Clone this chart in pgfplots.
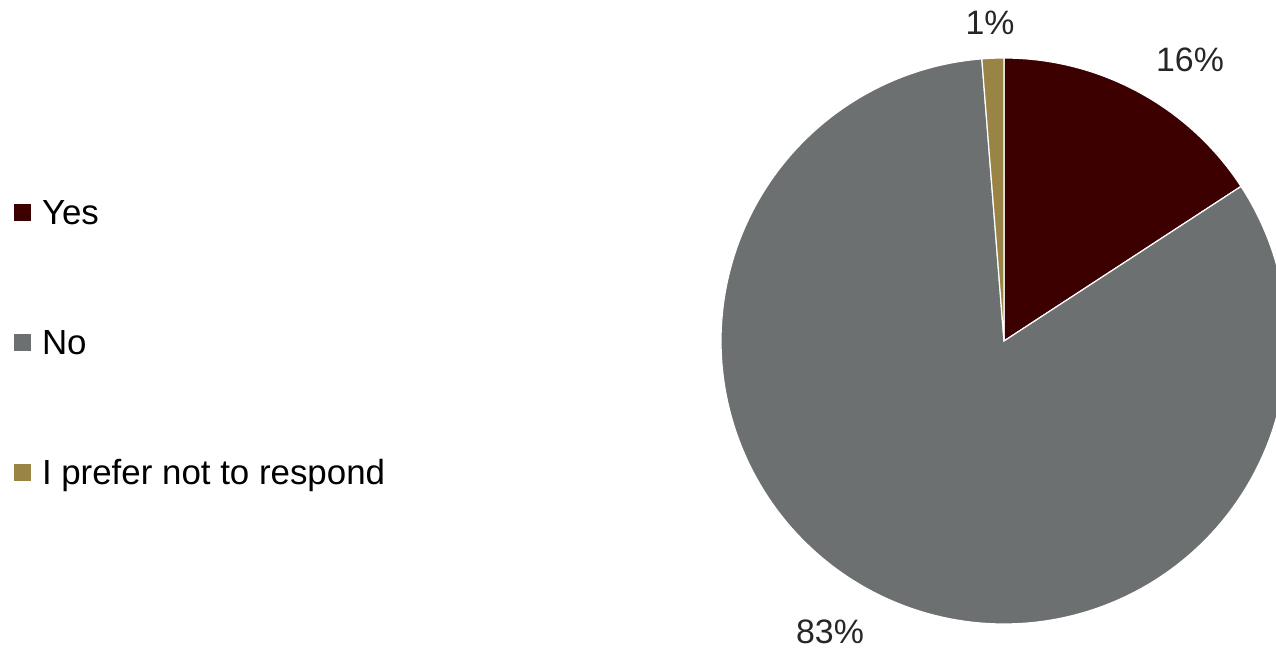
\documentclass[border=0pt]{standalone}
\usepackage{pgfplots}
\pgfplotsset{compat=1.18}
\usepackage{fontspec}
\setmainfont{Liberation Sans}
\definecolor{cyes}{HTML}{3D0000}
\definecolor{cno}{HTML}{6D7071}
\definecolor{cidk}{HTML}{9A8445}
% shares in percent
\def\pyes{15.8}
\def\pno{82.95}
\def\pidk{1.25}
\pgfmathsetmacro{\azero}{90}
\pgfmathsetmacro{\aone}{\azero-3.6*\pyes}
\pgfmathsetmacro{\atwo}{\aone-3.6*\pno}
\pgfmathsetmacro{\athree}{\atwo-3.6*\pidk}
\begin{document}
\begin{tikzpicture}
\begin{axis}[
  scale only axis,
  width=1276bp, height=648bp,
  xmin=-1004, xmax=272, ymin=-307, ymax=341,
  hide axis,
  clip=true,
  legend style={at={(axis cs:-990,142)}, anchor=north west, draw=none, fill=none,
    inner sep=0pt, outer sep=0pt,
    nodes={inner sep=0pt, text height=26bp, text depth=8bp, anchor=base west, font=\fontsize{35}{42}\selectfont},
    row sep=96bp, column sep=0bp},
  legend cell align=left,
  legend image code/.code={\fill[#1, draw=none] (0bp,4bp) rectangle (17bp,21bp);},
]
\addplot[data cs=polar, fill=cyes, draw=white, line width=1.2bp, domain=\aone:\azero, samples=80] {283} -- (axis cs:0,0) -- cycle;
\addlegendentry{\hspace{11bp}Yes}
\addplot[data cs=polar, fill=cno, draw=white, line width=1.2bp, domain=\atwo:\aone, samples=300] {283} -- (axis cs:0,0) -- cycle;
\addlegendentry{\hspace{11bp}No}
\addplot[data cs=polar, fill=cidk, draw=white, line width=1.2bp, domain=\athree:\atwo, samples=10] {283} -- (axis cs:0,0) -- cycle;
\addlegendentry{\hspace{11bp}I prefer not to respond}
\node[font=\fontsize{34}{40}\selectfont, text=black!85, inner sep=0pt, anchor=base] at (axis cs:-14,306) {1\%};
\node[font=\fontsize{34}{40}\selectfont, text=black!85, inner sep=0pt, anchor=base] at (axis cs:186,269) {16\%};
\node[font=\fontsize{34}{40}\selectfont, text=black!85, inner sep=0pt, anchor=base] at (axis cs:-174,-302) {83\%};
\coordinate (bl) at (rel axis cs:0,0);
\coordinate (tr) at (rel axis cs:1,1);
\end{axis}
\pgfresetboundingbox
\path[use as bounding box] (bl) rectangle (tr);
\end{tikzpicture}
\end{document}
